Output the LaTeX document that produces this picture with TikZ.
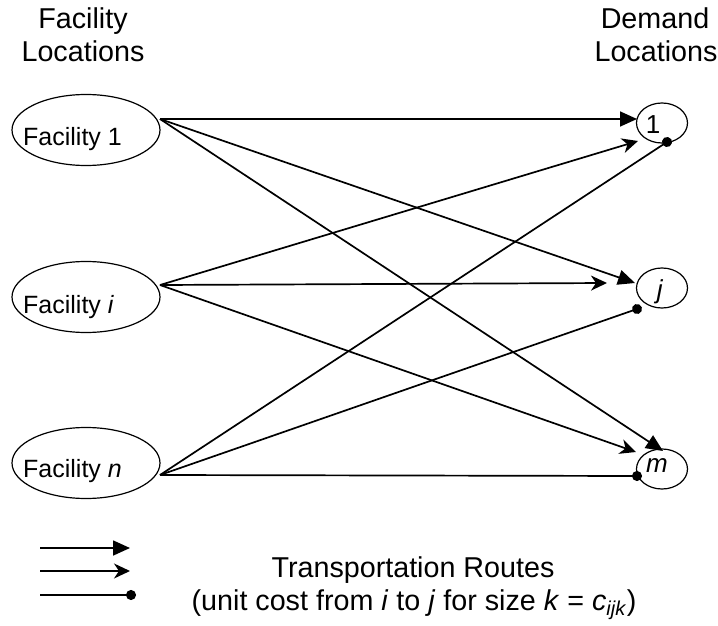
\documentclass[tikz,border=0pt]{standalone}
\usepackage{fontspec}
\setmainfont{Liberation Sans}
\usetikzlibrary{arrows.meta,shapes.geometric}
\tikzset{
  fac/.style={draw,line width=1.2pt,ellipse,inner sep=0pt,minimum width=148pt,minimum height=71pt},
  dem/.style={draw,line width=1.2pt,ellipse,inner sep=0pt,minimum width=51pt,minimum height=40pt},
  big/.style={font=\fontsize{28.7}{33}\selectfont,inner sep=0pt,anchor=base},
  lbl/.style={font=\fontsize{25}{30}\selectfont,inner sep=0pt,anchor=base west},
  dlbl/.style={font=\fontsize{26}{30}\selectfont,inner sep=0pt,anchor=base},
  route/.style={line width=1.7pt},
  tri/.style={route,-{Triangle[length=17pt,width=15pt]}},
  stl/.style={route,-{Stealth[length=16pt,width=15pt,inset=5pt]}},
  dotr/.style={route,-{Circle[length=10pt]},shorten >=-5pt},
}
\begin{document}
\begin{tikzpicture}[x=1pt,y=-1pt]
\useasboundingbox (0,0) rectangle (718,626);
% headers
\node[big] (h1) at (83,29) {Facility};
\node[big] (h2) at (83,62) {Locations};
\node[big] (h3) at (655,29) {Demand};
\node[big] (h4) at (656,62) {Locations};
% facility ellipses
\node[fac] (f1) at (86,130) {};
\node[fac] (fi) at (86,297) {};
\node[fac] (fn) at (86,463) {};
\node[lbl] (t1) at (23,145) {Facility 1};
\node[lbl] (ti) at (23,313) {Facility \textit{i}};
\node[lbl] (tn) at (23,477) {Facility \textit{n}};
% demand ellipses
\node[dem] (d1) at (662,123) {};
\node[dem] (dj) at (662,288) {};
\node[dem] (dm) at (662,469) {};
\node[dlbl] (u1) at (653,133) {1};
\node[dlbl] (uj) at (660,298) {\textit{j}};
\node[dlbl] (um) at (657,472) {\textit{m}};
% sources
\coordinate (s1) at (160,119);
\coordinate (si) at (160,285);
\coordinate (sn) at (160,475);
% targets
\coordinate (a11) at (637,119);
\coordinate (a1j) at (635,283);
\coordinate (a1m) at (663,451);
\coordinate (ai1) at (638,141);
\coordinate (aij) at (607,283);
\coordinate (aim) at (636,452);
\coordinate (an1) at (667,142);
\coordinate (anj) at (637,309);
\coordinate (anm) at (637,476);
\draw[tri] (s1) -- (a11);
\draw[tri] (s1) -- (a1j);
\draw[tri] (s1) -- (a1m);
\draw[stl] (si) -- (ai1);
\draw[stl] (si) -- (aij);
\draw[stl] (si) -- (aim);
\draw[dotr] (sn) -- (an1);
\draw[dotr] (sn) -- (anj);
\draw[dotr] (sn) -- (anm);
% legend
\coordinate (l1a) at (40,548); \coordinate (l1b) at (130,548);
\coordinate (l2a) at (40,571); \coordinate (l2b) at (130,571);
\coordinate (l3a) at (40,595); \coordinate (l3b) at (131,595);
\draw[tri] (l1a) -- (l1b);
\draw[stl] (l2a) -- (l2b);
\draw[dotr] (l3a) -- (l3b);
\node[big] (lt1) at (413,577) {Transportation Routes};
\node[big] (lt2) at (414,610) {(unit cost from \textit{i} to \textit{j} for size \textit{k} = \textit{c}\textsubscript{\textit{ijk}})};
\end{tikzpicture}
\end{document}
